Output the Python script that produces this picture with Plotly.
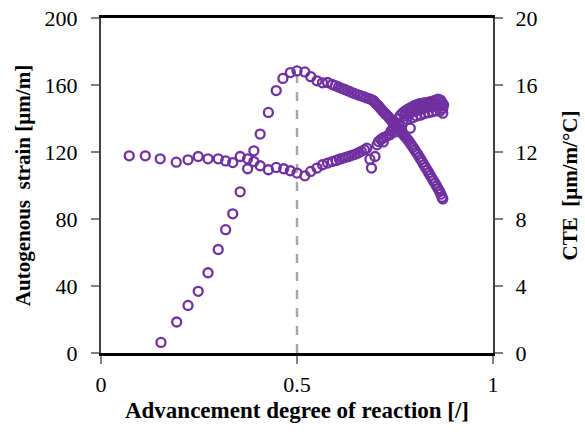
import plotly.graph_objects as go

# Autogenous strain [µm/m] vs advancement degree
strain_x = [0.153, 0.193, 0.222, 0.248, 0.273, 0.299, 0.318, 0.336, 0.355, 0.374, 0.390, 0.406,
            0.427, 0.447, 0.464, 0.483, 0.500, 0.520, 0.535, 0.551, 0.565, 0.578, 0.590,
            0.598, 0.606, 0.614, 0.622, 0.630, 0.638, 0.646, 0.654, 0.662, 0.670, 0.678,
            0.686, 0.692, 0.696, 0.700, 0.704, 0.708, 0.712, 0.716, 0.720, 0.724, 0.728,
            0.732, 0.736, 0.740, 0.744, 0.748, 0.752, 0.756, 0.760, 0.764, 0.768, 0.772,
            0.776, 0.780, 0.784, 0.788, 0.792, 0.796, 0.800, 0.804, 0.808, 0.812, 0.816,
            0.820, 0.824, 0.828, 0.832, 0.836, 0.840, 0.844, 0.848, 0.852, 0.856, 0.860,
            0.864, 0.867, 0.870, 0.872]
strain_y = [6.3, 18.5, 28.4, 36.8, 47.9, 61.8, 73.6, 83.1, 96.2, 110.0, 120.7, 130.7,
            143.6, 156.7, 163.9, 167.4, 168.4, 167.8, 165.0, 162.5, 161.3, 161.5, 160.3,
            159.6, 158.8, 158.0, 157.3, 156.5, 155.7, 155.0, 154.3, 153.6, 153.0, 152.3,
            151.7, 151.0, 150.5, 149.3, 148.4, 147.4, 146.2, 145.2, 144.2, 143.2, 142.3,
            141.3, 140.1, 139.0, 137.9, 136.9, 135.8, 134.6, 133.5, 132.4, 131.3, 130.2,
            129.2, 128.0, 126.8, 125.5, 124.2, 122.8, 121.3, 119.8, 118.6, 117.0, 115.5,
            113.9, 112.3, 110.8, 109.2, 107.6, 106.0, 104.4, 102.9, 101.3, 99.7, 98.1,
            96.4, 94.8, 93.0, 92.0]

# CTE [µm/m/°C] vs advancement degree
cte_x = [0.072, 0.113, 0.151, 0.192, 0.222, 0.248, 0.273, 0.299, 0.318, 0.336, 0.355, 0.374,
         0.390, 0.406, 0.427, 0.447, 0.466, 0.483, 0.500, 0.520, 0.535, 0.551, 0.565, 0.578,
         0.590, 0.600, 0.608, 0.616, 0.624, 0.632, 0.640, 0.648, 0.656, 0.664, 0.672, 0.678,
         0.686, 0.690, 0.699, 0.704, 0.708, 0.714, 0.720, 0.727, 0.733, 0.740, 0.746, 0.752,
         0.758, 0.764, 0.770, 0.776, 0.782, 0.788, 0.794, 0.800, 0.806, 0.812, 0.818, 0.824,
         0.830, 0.836, 0.842, 0.848, 0.854, 0.860, 0.866, 0.870,
         0.760, 0.770, 0.780, 0.789, 0.795, 0.805, 0.815, 0.825, 0.835, 0.845, 0.855, 0.865,
         0.872, 0.874, 0.872,
         0.775, 0.785, 0.795, 0.805, 0.815, 0.825, 0.835, 0.845, 0.855, 0.862, 0.868,
         0.720, 0.738, 0.750]
cte_y = [11.77, 11.77, 11.59, 11.39, 11.53, 11.73, 11.59, 11.59, 11.47, 11.37, 11.73, 11.59,
         11.43, 11.18, 10.94, 11.08, 11.00, 10.88, 10.74, 10.58, 10.84, 11.04, 11.24, 11.34,
         11.43, 11.50, 11.57, 11.62, 11.68, 11.73, 11.80, 11.86, 11.94, 12.04, 12.13, 12.23,
         11.57, 11.04, 11.73, 12.43, 12.62, 12.75, 12.85, 12.92, 13.00, 13.25, 13.50, 13.75,
         14.00, 14.20, 14.35, 14.45, 14.55, 14.62, 14.70, 14.78, 14.82, 14.88, 14.90, 14.93,
         14.95, 14.98, 15.00, 15.05, 15.10, 15.15, 15.10, 14.95,
         13.60, 13.80, 13.95, 13.42, 14.05, 14.15, 14.20, 14.30, 14.35, 14.40, 14.45, 14.45,
         14.32, 14.80, 14.60,
         14.15, 14.30, 14.40, 14.48, 14.55, 14.62, 14.68, 14.72, 14.78, 14.80, 14.75,
         12.60, 13.05, 13.20]

x_ticks = [0, 0.5, 1]
y_ticks = [0, 40, 80, 120, 160, 200]
y2_ticks = [0, 4, 8, 12, 16, 20]
peak_x = 0.5
peak_y = 168.4

purple = "#7030A0"
font = "Liberation Serif"

fig = go.Figure()
fig.add_trace(go.Scatter(
    x=strain_x, y=strain_y, mode="markers", name="Autogenous strain",
    marker=dict(symbol="circle-open", size=9, color=purple, line=dict(width=2.3, color=purple)),
))
fig.add_trace(go.Scatter(
    x=cte_x, y=cte_y, mode="markers", name="CTE", yaxis="y2",
    marker=dict(symbol="circle-open", size=9, color=purple, line=dict(width=2.3, color=purple)),
))

fig.add_shape(type="line", x0=peak_x, x1=peak_x, y0=0, y1=peak_y, xref="x", yref="y",
              line=dict(color="#A6A6A6", width=2.5, dash="dash"), layer="below")

fig.update_layout(
    width=585, height=434,
    margin=dict(l=101, r=92, t=18, b=81, autoexpand=False),
    paper_bgcolor="white", plot_bgcolor="white",
    showlegend=False,
    font=dict(family=font, size=22, color="black"),
    xaxis=dict(
        range=[0, 1], tickvals=x_ticks, ticktext=["0", "0.5", "1"],
        showgrid=False, zeroline=False, automargin=False,
        showline=True, linecolor="black", linewidth=2.5, mirror=True,
        ticks="outside", ticklen=8, tickcolor="#808080", tickwidth=1.5,
        ticklabelstandoff=2,
        title=dict(text="<b>Advancement degree of reaction [/]</b>", font=dict(size=23), standoff=6),
    ),
    yaxis=dict(
        range=[0, 200], tickvals=y_ticks,
        showgrid=False, zeroline=False, automargin=False,
        showline=True, linecolor="#404040", linewidth=2,
        ticks="outside", ticklen=8, tickcolor="#808080", tickwidth=1.5,
        ticklabelstandoff=9,
        title=dict(text="<b>Autogenous  strain [µm/m]</b>", font=dict(size=21), standoff=8),
    ),
    yaxis2=dict(
        range=[0, 20], tickvals=y2_ticks, overlaying="y", side="right",
        showgrid=False, zeroline=False, automargin=False,
        showline=True, linecolor="#404040", linewidth=2,
        ticks="outside", ticklen=8, tickcolor="#808080", tickwidth=1.5,
        ticklabelstandoff=8,
        title=dict(text="<b>CTE  [µm/m/°C]</b>", font=dict(size=21), standoff=26),
    ),
)

fig.write_html("out.html", config={"displayModeBar": False})

# remove the default page margin so the figure sits at the window origin
with open("out.html", "r", encoding="utf-8") as f:
    html = f.read()
html = html.replace("<head>", "<head><style>html,body{margin:0;padding:0;overflow:hidden;}</style>", 1)
with open("out.html", "w", encoding="utf-8") as f:
    f.write(html)
